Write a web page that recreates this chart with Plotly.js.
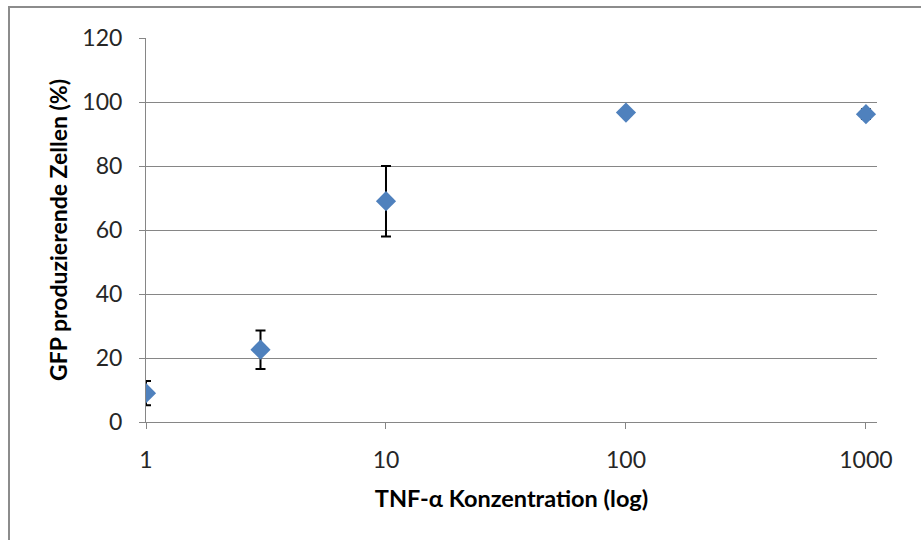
<!DOCTYPE html>
<html>
<head>
<meta charset="utf-8">
<script src="https://cdn.plot.ly/plotly-3.0.1.min.js"></script>
<style>html,body{margin:0;padding:0;background:#fff;}#chart{width:921px;height:540px;}</style>
</head>
<body>
<div id="chart"></div>
<script>
const concentrations = [1, 3, 10, 100, 1000];
const gfpPercent = [9.0, 22.6, 69.0, 96.7, 96.2];
const gfpError = [3.8, 6.0, 11.0, 0.5, 1.5];
const xTickValues = [1, 10, 100, 1000];
const xTickLabels = ['1', '10', '100', '1000'];
const yTickValues = [0, 20, 40, 60, 80, 100, 120];

const trace = {
  x: concentrations,
  y: gfpPercent,
  type: 'scatter',
  mode: 'markers',
  marker: {symbol: 'diamond', size: 15.5, color: '#4F81BD'},
  error_y: {type: 'data', array: gfpError, visible: true, color: '#000000', thickness: 2, width: 5},
  showlegend: false,
  hoverinfo: 'x+y'
};

const layout = {
  width: 921,
  height: 540,
  margin: {l: 146, r: 44, t: 38, b: 118},
  paper_bgcolor: '#ffffff',
  plot_bgcolor: '#ffffff',
  font: {family: 'Lato, "Open Sans", sans-serif', size: 23, color: '#262626'},
  xaxis: {
    type: 'log',
    range: [0, 3.046],
    tickvals: xTickValues,
    ticktext: xTickLabels,
    showgrid: false,
    zeroline: false,
    showline: true,
    linecolor: '#868686',
    linewidth: 1,
    ticks: 'outside',
    ticklen: 6,
    tickcolor: '#868686',
    ticklabelstandoff: 11,
    title: {text: 'TNF-α Konzentration (log)', font: {size: 23.5, color: '#000000', family: 'Lato, sans-serif', weight: 'bold'}, standoff: 18}
  },
  yaxis: {
    range: [0, 120],
    tickvals: yTickValues,
    showgrid: true,
    gridcolor: '#868686',
    gridwidth: 1,
    zeroline: false,
    showline: true,
    linecolor: '#868686',
    linewidth: 1,
    ticks: 'outside',
    ticklen: 6,
    tickcolor: '#868686',
    ticklabelstandoff: 12,
    title: {text: 'GFP produzierende Zellen (%)', font: {size: 23, color: '#000000', family: 'Lato, sans-serif', weight: 'bold'}, standoff: 8}
  },
  shapes: [{
    type: 'rect', xref: 'paper', yref: 'paper',
    x0: -146/731 + 9/731, x1: 1.2, y0: -0.5, y1: 1 + 31/384,
    line: {color: '#8c8c8c', width: 2}, fillcolor: 'rgba(0,0,0,0)', layer: 'below'
  }]
};

Plotly.newPlot('chart', [trace], layout, {displayModeBar: false, staticPlot: true});
</script>
</body>
</html>
